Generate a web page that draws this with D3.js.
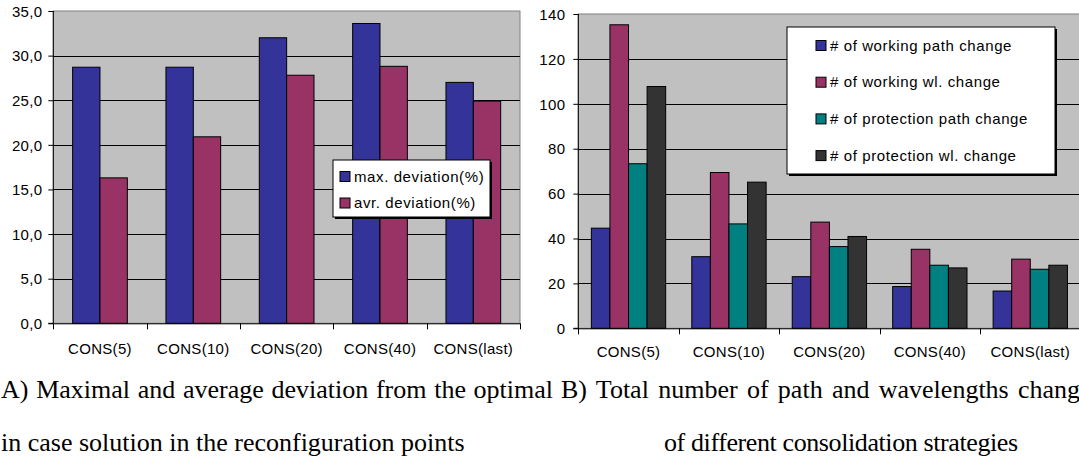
<!DOCTYPE html>
<html>
<head>
<meta charset="utf-8">
<script src="https://cdn.jsdelivr.net/npm/d3@7"></script>
<style>
  html, body { margin: 0; padding: 0; background: #fff; }
  svg { display: block; }
  .tick-label { font-family: "Liberation Sans", Arial, sans-serif; font-size: 15px; letter-spacing: 0.3px; fill: #000; }
  .legend-label { font-family: "Liberation Sans", Arial, sans-serif; font-size: 15px; letter-spacing: 0.6px; fill: #000; }
  .caption { font-family: "Liberation Serif", "Times New Roman", serif; font-size: 26px; fill: #000; }
</style>
</head>
<body>
<svg id="chart" width="1079" height="464"></svg>
<script>
// Consolidation strategies shared by both panels
const categories = ["CONS(5)", "CONS(10)", "CONS(20)", "CONS(40)", "CONS(last)"];

// Panel A: deviation from the optimal solution (%)
const devSeries = ["max. deviation(%)", "avr. deviation(%)"];
const maxDeviation = [28.7, 28.7, 32.0, 33.6, 27.0];
const avrDeviation = [16.3, 20.9, 27.8, 28.8, 24.9];
const devTicks = [0, 5, 10, 15, 20, 25, 30, 35];

// Panel B: number of path / wavelength changes
const chgSeries = ["# of working path change", "# of working wl. change",
                   "# of protection path change", "# of protection wl. change"];
const workingPath = [44.6, 31.9, 23.0, 18.6, 16.6];
const workingWl = [135.2, 69.4, 47.3, 35.2, 30.8];
const protectionPath = [73.3, 46.5, 36.4, 28.1, 26.3];
const protectionWl = [107.7, 65.1, 40.9, 26.9, 28.1];
const chgTicks = [0, 20, 40, 60, 80, 100, 120, 140];

const captionsA = ["A) Maximal and average deviation from the optimal",
                   "in case solution in the reconfiguration points"];
const captionsB = ["B) Total number of path and wavelengths changes",
                   "of different consolidation strategies"];

const svg = d3.select("#chart");

function drawPanel(cfg) {
  const g = svg.append("g");
  const x0 = d3.scaleBand().domain(categories).range([cfg.left, cfg.right]).padding(0);
  const bw = x0.bandwidth();
  const x1 = d3.scaleBand().domain(cfg.series)
    .range([bw * cfg.groupPad, bw * (1 - cfg.groupPad)]).padding(0);
  const y = d3.scaleLinear().domain(cfg.domain).range([cfg.bottom, cfg.top]);
  const color = d3.scaleOrdinal().domain(cfg.series).range(cfg.colors);

  // plot area
  g.append("rect")
    .attr("x", cfg.left).attr("y", cfg.top)
    .attr("width", cfg.right - cfg.left).attr("height", cfg.bottom - cfg.top)
    .attr("fill", "#c0c0c0").attr("stroke", "#808080").attr("stroke-width", 1);

  // gridlines
  g.append("g").selectAll("line")
    .data(cfg.ticks.filter(t => t > cfg.domain[0] && t < cfg.domain[1]))
    .join("line")
    .attr("x1", cfg.left).attr("x2", cfg.right)
    .attr("y1", d => Math.round(y(d)) + 0.5).attr("y2", d => Math.round(y(d)) + 0.5)
    .attr("stroke", "#000").attr("stroke-width", 1);

  // bars
  const rows = categories.map((c, i) => ({ cat: c, vals: cfg.values.map(v => v[i]) }));
  g.append("g").selectAll("g")
    .data(rows).join("g")
    .attr("transform", d => `translate(${x0(d.cat)},0)`)
    .selectAll("rect")
    .data(d => d.vals.map((v, k) => ({ key: cfg.series[k], v })))
    .join("rect")
    .attr("x", d => x1(d.key)).attr("width", x1.bandwidth())
    .attr("y", d => y(d.v)).attr("height", d => y(0) - y(d.v))
    .attr("fill", d => color(d.key)).attr("stroke", "#000").attr("stroke-width", 1);

  // y axis
  const yAxis = d3.axisLeft(y).tickValues(cfg.ticks).tickSize(5).tickPadding(cfg.labelPad)
    .tickFormat(cfg.fmt);
  const ya = g.append("g").attr("transform", `translate(${cfg.left},0)`).call(yAxis);
  ya.select(".domain").attr("d", `M-5,${y(cfg.domain[0])}H0V${y(cfg.domain[1])}`)
    .attr("stroke", "#000");
  ya.selectAll(".tick line").attr("stroke", "#000");
  ya.selectAll(".tick text").attr("class", "tick-label").attr("font-size", null)
    .attr("font-family", null).attr("dy", "0.35em");

  // x axis with tick marks at category boundaries
  const xa = g.append("g").attr("transform", `translate(0,${cfg.bottom})`);
  xa.append("line").attr("x1", cfg.left).attr("x2", cfg.right)
    .attr("y1", 0.5).attr("y2", 0.5).attr("stroke", "#000");
  xa.selectAll("line.bound")
    .data(categories.map(c => x0(c)).concat([cfg.right]))
    .join("line").attr("class", "bound")
    .attr("x1", d => Math.round(d) + 0.5).attr("x2", d => Math.round(d) + 0.5)
    .attr("y1", 0).attr("y2", 6).attr("stroke", "#000");
  xa.selectAll("text").data(categories).join("text")
    .attr("class", "tick-label")
    .attr("x", d => x0(d) + bw / 2).attr("y", cfg.labelY - cfg.bottom)
    .attr("text-anchor", "middle").text(d => d);

  // legend
  const lg = g.append("g");
  const L = cfg.legend;
  lg.append("rect").attr("x", L.x + 2).attr("y", L.y + 2)
    .attr("width", L.w).attr("height", L.h).attr("fill", "#000");
  lg.append("rect").attr("x", L.x).attr("y", L.y)
    .attr("width", L.w).attr("height", L.h)
    .attr("fill", "#fff").attr("stroke", "#000").attr("stroke-width", 1);
  const items = lg.selectAll("g.item").data(cfg.series).join("g").attr("class", "item")
    .attr("transform", (d, i) => `translate(${L.x + L.sx},${L.y + L.row0 + i * L.step})`);
  items.append("rect").attr("x", 0).attr("y", -5).attr("width", 10).attr("height", 10)
    .attr("fill", d => color(d)).attr("stroke", "#000").attr("stroke-width", 1);
  items.append("text").attr("class", "legend-label")
    .attr("x", 14).attr("y", 0).attr("dy", "0.35em").text(d => d);
}

drawPanel({
  left: 53.3, right: 520, top: 11, bottom: 323.3,
  domain: [0, 35], ticks: devTicks,
  fmt: d => d3.format(".1f")(d).replace(".", ","),
  labelPad: 6, labelY: 354,
  series: devSeries, values: [maxDeviation, avrDeviation],
  colors: ["#333399", "#993366"], groupPad: 0.207,
  legend: { x: 333, y: 160, w: 157, h: 57, sx: 7, row0: 16.5, step: 26.5 }
});

drawPanel({
  left: 578.3, right: 1080.5, top: 14, bottom: 328.3,
  domain: [0, 140], ticks: chgTicks,
  fmt: d3.format("d"),
  labelPad: 8, labelY: 357,
  series: chgSeries, values: [workingPath, workingWl, protectionPath, protectionWl],
  colors: ["#333399", "#993366", "#008080", "#333333"], groupPad: 0.13,
  legend: { x: 787, y: 27, w: 268, h: 147, sx: 29, row0: 18.5, step: 36.7 }
});

// captions under the panels (first line is justified, hence the wider word gaps)
svg.append("text").attr("class", "caption").attr("x", 1).attr("y", 398)
  .attr("word-spacing", "1.2px").text(captionsA[0]);
svg.append("text").attr("class", "caption").attr("x", 1).attr("y", 451).text(captionsA[1]);
svg.append("text").attr("class", "caption").attr("x", 561).attr("y", 398)
  .attr("word-spacing", "2.8px").text(captionsB[0]);
svg.append("text").attr("class", "caption").attr("x", 664).attr("y", 451)
  .attr("letter-spacing", "-0.4px").text(captionsB[1]);
</script>
</body>
</html>
